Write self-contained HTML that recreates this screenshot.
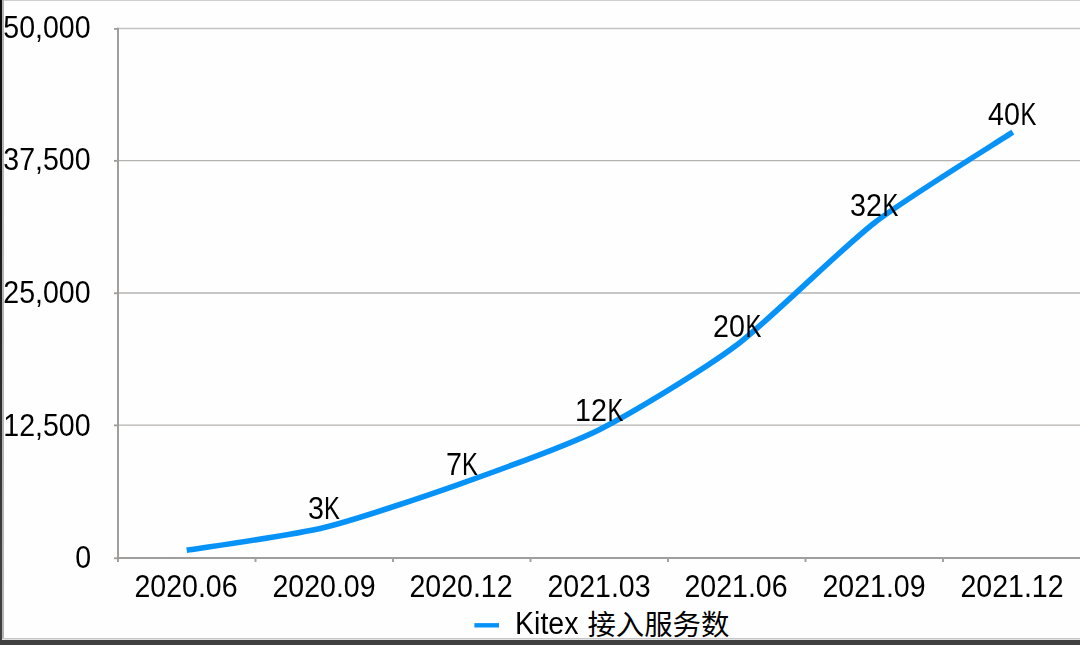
<!DOCTYPE html>
<html lang="zh"><head><meta charset="utf-8"><title>Kitex 接入服务数</title>
<style>
html,body{margin:0;padding:0;}
body{width:1080px;height:645px;overflow:hidden;background:#fefefe;position:relative;
 font-family:"Liberation Sans",sans-serif;color:#000;}
.frame{position:absolute;}
svg{position:absolute;left:0;top:0;}
.t{position:absolute;white-space:nowrap;font-size:30.6px;line-height:1;height:30.6px;}
.y{right:989.1px;text-align:right;transform:scaleX(0.933);transform-origin:100% 50%;}
.c{width:200px;margin-left:-100px;text-align:center;transform:scaleX(0.933);transform-origin:50% 50%;}
#labels{position:absolute;left:0;top:0;width:1080px;height:645px;will-change:transform;}
.d{font-size:30.5px;height:30.5px;transform:scaleX(.94);}
.k{display:inline-block;transform:scaleX(.83);transform-origin:0 50%;margin-right:-3.46px;}
.l{transform:scaleX(0.933);transform-origin:0 50%;}
</style></head>
<body>
<div class="frame" style="left:0;top:0;width:1080px;height:1px;background:#cfcfcf"></div>
<div class="frame" style="left:0;top:0;width:2px;height:645px;background:linear-gradient(#0e0e0e,#141414 30%,#3e3e3e 85%,#404040)"></div>
<div class="frame" style="left:2px;top:0;width:2px;height:640px;background:#b4b4b4"></div>
<div class="frame" style="left:2px;top:638px;width:1078px;height:1px;background:#c6c6c6"></div>
<div class="frame" style="left:2px;top:639px;width:1078px;height:1px;background:#e2e2e2"></div>
<div class="frame" style="left:0;top:640px;width:1080px;height:5px;background:#404040"></div>
<svg width="1100" height="645" viewBox="0 0 1100 645">
<line x1="118.0" y1="28.60" x2="1100" y2="28.60" stroke="#c4c3c2" stroke-width="1.50"/>
<line x1="118.0" y1="160.60" x2="1100" y2="160.60" stroke="#b3b2b0" stroke-width="1.20"/>
<line x1="118.0" y1="293.00" x2="1100" y2="293.00" stroke="#b3b2b0" stroke-width="1.40"/>
<line x1="118.0" y1="425.10" x2="1100" y2="425.10" stroke="#b3b2b0" stroke-width="1.35"/>
<line x1="114" y1="28.85" x2="118.0" y2="28.85" stroke="#9c9b9a" stroke-width="1.8"/>
<line x1="114" y1="160.85" x2="118.0" y2="160.85" stroke="#9c9b9a" stroke-width="1.8"/>
<line x1="114" y1="293.25" x2="118.0" y2="293.25" stroke="#9c9b9a" stroke-width="1.8"/>
<line x1="114" y1="425.35" x2="118.0" y2="425.35" stroke="#9c9b9a" stroke-width="1.8"/>
<line x1="114" y1="558.25" x2="118.0" y2="558.25" stroke="#9c9b9a" stroke-width="1.8"/>
<line x1="118.0" y1="27.70" x2="118.0" y2="562" stroke="#a09f9e" stroke-width="2"/>
<line x1="117.0" y1="558.00" x2="1100" y2="558.00" stroke="#9f9e9d" stroke-width="2"/>
<line x1="255.50" y1="558.0" x2="255.50" y2="562" stroke="#a3a2a1" stroke-width="2"/>
<line x1="393.00" y1="558.0" x2="393.00" y2="562" stroke="#a3a2a1" stroke-width="2"/>
<line x1="530.50" y1="558.0" x2="530.50" y2="562" stroke="#a3a2a1" stroke-width="2"/>
<line x1="668.00" y1="558.0" x2="668.00" y2="562" stroke="#a3a2a1" stroke-width="2"/>
<line x1="805.50" y1="558.0" x2="805.50" y2="562" stroke="#a3a2a1" stroke-width="2"/>
<line x1="943.00" y1="558.0" x2="943.00" y2="562" stroke="#a3a2a1" stroke-width="2"/>
<path d="M186.70 550.32 C202.93 547.62 291.79 535.34 324.25 527.43 C356.71 519.53 429.30 494.85 461.75 483.32 C494.20 471.78 566.80 445.99 599.25 429.67 C631.70 413.35 704.30 369.39 736.75 345.00 C769.20 320.61 841.68 248.05 874.25 222.93 C906.82 197.82 996.45 142.89 1012.80 132.18" fill="none" stroke="#0792f8" stroke-width="5.6" stroke-linecap="butt" stroke-linejoin="round"/>
<line x1="474.4" y1="625.3" x2="499" y2="625.3" stroke="#0792f8" stroke-width="4.4"/>
<text x="587.40" y="635.30" font-size="28.4" fill="#000" style="font-family:'Liberation Sans','Noto Sans CJK SC',sans-serif;">接入服务数</text>
</svg>
<div id="labels">
<div class="t y" style="top:11.80px">50,000</div>
<div class="t y" style="top:144.40px">37,500</div>
<div class="t y" style="top:277.00px">25,000</div>
<div class="t y" style="top:409.60px">12,500</div>
<div class="t y" style="top:542.10px">0</div>
<div class="t c" style="left:186.25px;top:570.80px">2020.06</div>
<div class="t c" style="left:323.75px;top:570.80px">2020.09</div>
<div class="t c" style="left:461.25px;top:570.80px">2020.12</div>
<div class="t c" style="left:598.75px;top:570.80px">2021.03</div>
<div class="t c" style="left:736.25px;top:570.80px">2021.06</div>
<div class="t c" style="left:873.75px;top:570.80px">2021.09</div>
<div class="t c" style="left:1012.25px;top:570.80px">2021.12</div>
<div class="t c d" style="left:324.40px;top:493.38px">3<span class="k">K</span></div>
<div class="t c d" style="left:462.10px;top:449.48px">7<span class="k">K</span></div>
<div class="t c d" style="left:599.40px;top:395.08px">12<span class="k">K</span></div>
<div class="t c d" style="left:737.00px;top:311.08px">20<span class="k">K</span></div>
<div class="t c d" style="left:873.80px;top:189.58px">32<span class="k">K</span></div>
<div class="t c d" style="left:1011.80px;top:98.88px">40<span class="k">K</span></div>
<div class="t l" style="left:514.60px;top:607.70px">Kitex</div>
</div>
</body></html>
